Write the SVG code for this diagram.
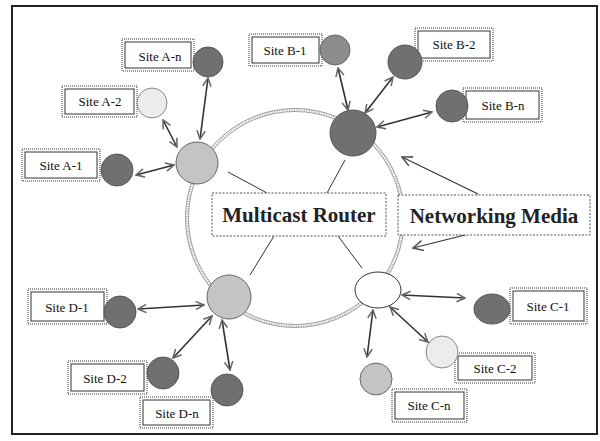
<svg xmlns="http://www.w3.org/2000/svg" width="600" height="441" viewBox="0 0 600 441">
<defs>
<marker id="ah" viewBox="0 0 12 12" refX="11" refY="6" markerWidth="10" markerHeight="10" orient="auto-start-reverse" markerUnits="userSpaceOnUse">
<path d="M1,1 L11,6 L1,11" fill="none" stroke="#666" stroke-width="1.8"/>
</marker>
<marker id="ah2" viewBox="0 0 12 12" refX="11" refY="6" markerWidth="12" markerHeight="12" orient="auto" markerUnits="userSpaceOnUse">
<path d="M1,1 L11,6 L1,11" fill="none" stroke="#555" stroke-width="1.6"/>
</marker>
</defs>
<style>
.frame{fill:#fff;stroke:#222;stroke-width:2}
.ring1{fill:none;stroke:#bbb;stroke-width:2.5;stroke-dasharray:1 1.5}
.ring2{fill:none;stroke:#777;stroke-width:0.7}
.bo{fill:#fff;stroke:#999;stroke-width:2;stroke-dasharray:1 1}
.bi{fill:#fff;stroke:#333;stroke-width:1}
.st{font-family:"Liberation Serif",serif;font-size:13px;fill:#111;text-anchor:middle;dominant-baseline:central}
.big{font-family:"Liberation Serif",serif;font-size:21px;font-weight:bold;fill:#222;text-anchor:middle;dominant-baseline:central}
.lb{fill:#fff;stroke:#555;stroke-width:1;stroke-dasharray:2 1.5}
.dk{fill:#707070;stroke:#555;stroke-width:1}
.md{fill:#8c8c8c;stroke:#666;stroke-width:1}
.lt{fill:#c4c4c4;stroke:#666;stroke-width:1}
.vl{fill:#ececec;stroke:#888;stroke-width:1}
.wh{fill:#fff;stroke:#333;stroke-width:1}
.ar{stroke:#333;stroke-width:1.6;fill:none;marker-start:url(#ah);marker-end:url(#ah)}
.ln{stroke:#333;stroke-width:1;fill:none}
.ma{stroke:#333;stroke-width:1.2;fill:none;marker-end:url(#ah2)}
</style>
<rect class="frame" x="12" y="6" width="585" height="428"/>
<g id="ring">
<circle class="ring1" cx="295" cy="218" r="108"/>
<circle class="ring2" cx="295" cy="218" r="106.5"/>
<circle class="ring2" cx="295" cy="218" r="109.5"/>
</g>
<g id="connectors">
<line class="ar" x1="208" y1="78" x2="200" y2="139"/>
<line class="ar" x1="163" y1="120" x2="177" y2="147"/>
<line class="ar" x1="136" y1="175" x2="174" y2="165"/>
<line class="ar" x1="338" y1="68" x2="348" y2="110"/>
<line class="ar" x1="393" y1="77" x2="365" y2="113"/>
<line class="ar" x1="432" y1="112" x2="377" y2="127"/>
<line class="ar" x1="402" y1="295" x2="465" y2="298"/>
<line class="ar" x1="390" y1="307" x2="428" y2="342"/>
<line class="ar" x1="373" y1="310" x2="367" y2="357"/>
<line class="ar" x1="138" y1="309" x2="204" y2="305"/>
<line class="ar" x1="173" y1="358" x2="212" y2="316"/>
<line class="ar" x1="222" y1="320" x2="230" y2="370"/>
<line class="ln" x1="228" y1="172" x2="267" y2="193"/>
<line class="ln" x1="327" y1="193" x2="345" y2="160"/>
<line class="ln" x1="274" y1="236" x2="250" y2="275"/>
<line class="ln" x1="338" y1="236" x2="362" y2="268"/>
<line class="ma" x1="478" y1="194" x2="402" y2="157"/>
<line class="ma" x1="473" y1="233" x2="413" y2="248"/>
</g>
<g id="router-a"><circle class="lt" cx="197" cy="163" r="21"/></g>
<g id="router-b"><circle class="dk" cx="353" cy="133" r="23"/></g>
<g id="router-c"><ellipse class="wh" cx="378" cy="290" rx="23" ry="18"/></g>
<g id="router-d"><circle class="lt" cx="229" cy="297" r="22"/></g>
<g id="multicast-router">
<rect class="lb" x="212" y="193" width="174" height="43"/>
<text class="big" x="299" y="215">Multicast Router</text>
</g>
<g id="networking-media">
<rect class="lb" x="398" y="195" width="192" height="40"/>
<text class="big" x="494" y="216">Networking Media</text>
</g>
<g id="site-a-n"><rect class="bo" x="122" y="39" width="72" height="32"/><rect class="bi" x="125" y="42" width="66" height="26"/><text class="st" x="160" y="56">Site A-n</text><circle class="dk" cx="208" cy="62" r="15"/></g>
<g id="site-a-2"><rect class="bo" x="62" y="86" width="75" height="31"/><rect class="bi" x="65" y="89" width="69" height="25"/><text class="st" x="100" y="101">Site A-2</text><circle class="vl" cx="152" cy="103" r="15"/></g>
<g id="site-a-1"><rect class="bo" x="22" y="149" width="78" height="32"/><rect class="bi" x="25" y="152" width="72" height="26"/><text class="st" x="61" y="165">Site A-1</text><circle class="dk" cx="117" cy="170" r="16"/></g>
<g id="site-b-1"><rect class="bo" x="249" y="34" width="73" height="32"/><rect class="bi" x="252" y="37" width="67" height="26"/><text class="st" x="285" y="50">Site B-1</text><circle class="md" cx="335" cy="50" r="15"/></g>
<g id="site-b-2"><rect class="bo" x="415" y="28" width="78" height="33"/><rect class="bi" x="418" y="31" width="72" height="27"/><text class="st" x="454" y="44">Site B-2</text><circle class="dk" cx="405" cy="62" r="17"/></g>
<g id="site-b-n"><rect class="bo" x="463" y="88" width="79" height="34"/><rect class="bi" x="466" y="91" width="73" height="28"/><text class="st" x="503" y="105">Site B-n</text><circle class="dk" cx="452" cy="106" r="16"/></g>
<g id="site-c-1"><rect class="bo" x="510" y="288" width="77" height="36"/><rect class="bi" x="513" y="291" width="71" height="30"/><text class="st" x="548" y="306">Site C-1</text><ellipse class="dk" cx="492" cy="309" rx="18" ry="15"/></g>
<g id="site-c-2"><rect class="bo" x="455" y="353" width="80" height="30"/><rect class="bi" x="458" y="356" width="74" height="24"/><text class="st" x="495" y="368">Site C-2</text><circle class="vl" cx="442" cy="352" r="16"/></g>
<g id="site-c-n"><rect class="bo" x="392" y="389" width="75" height="33"/><rect class="bi" x="395" y="392" width="69" height="27"/><text class="st" x="429" y="405">Site C-n</text><circle class="lt" cx="376" cy="379" r="16"/></g>
<g id="site-d-1"><rect class="bo" x="28" y="289" width="79" height="35"/><rect class="bi" x="31" y="292" width="73" height="29"/><text class="st" x="67" y="307">Site D-1</text><circle class="dk" cx="120" cy="312" r="16"/></g>
<g id="site-d-2"><rect class="bo" x="68" y="361" width="79" height="33"/><rect class="bi" x="71" y="364" width="73" height="27"/><text class="st" x="105" y="378">Site D-2</text><circle class="dk" cx="163" cy="373" r="16"/></g>
<g id="site-d-n"><rect class="bo" x="140" y="397" width="73" height="31"/><rect class="bi" x="143" y="400" width="67" height="25"/><text class="st" x="177" y="413">Site D-n</text><circle class="dk" cx="227" cy="390" r="16"/></g>
</svg>
